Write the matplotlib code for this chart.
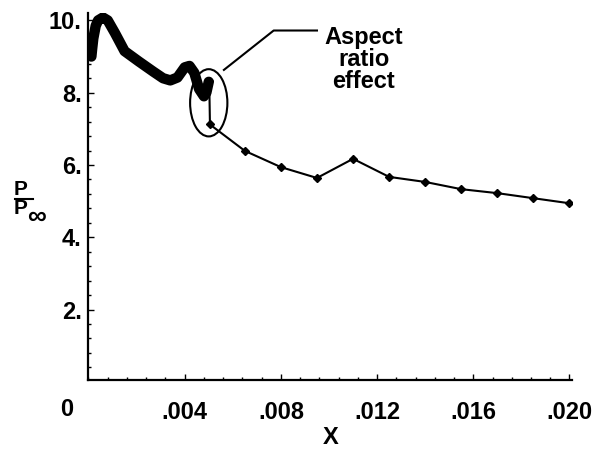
import numpy as np
import matplotlib.pyplot as plt
from matplotlib.patches import Ellipse
from matplotlib.ticker import MultipleLocator
from matplotlib.lines import Line2D

plt.rcParams['font.family'] = ['Liberation Sans', 'DejaVu Sans']

# dense (thick) part of the curve near the leading edge
x_fine = [0.00012, 0.00015, 0.0002, 0.0003, 0.0004, 0.0006, 0.0008, 0.0011,
          0.0015, 0.0021, 0.0027, 0.0031, 0.0034, 0.0037, 0.0040, 0.0042,
          0.0044, 0.0046, 0.0048, 0.0049, 0.0050]
y_fine = [9.0, 9.2, 9.5, 9.85, 10.0, 10.08, 10.0, 9.65, 9.15, 8.86, 8.58,
          8.4, 8.34, 8.42, 8.7, 8.74, 8.55, 8.1, 7.9, 8.0, 8.3]

# discrete points downstream
x_pts = [0.00502, 0.00505, 0.0065, 0.008, 0.0095, 0.011, 0.0125, 0.014,
         0.0155, 0.017, 0.0185, 0.020]
y_pts = [8.33, 7.12, 6.39, 5.94, 5.64, 6.17, 5.67, 5.53, 5.33, 5.22, 5.08, 4.94]

x_ticks = [0.004, 0.008, 0.012, 0.016, 0.020]
x_labels = ['.004', '.008', '.012', '.016', '.020']
y_ticks = [2, 4, 6, 8, 10]
y_labels = ['2.', '4.', '6.', '8.', '10.']

fs = 17
fig = plt.figure(figsize=(6.02, 4.54), dpi=100)
ax = fig.add_axes([0.147, 0.163, 0.803, 0.808])

ax.plot(x_fine, y_fine, color='black', lw=7.5, solid_capstyle='round',
        solid_joinstyle='round')
ax.plot(x_pts, y_pts, color='black', lw=1.5, marker='D', ms=4.5)

ax.add_patch(Ellipse((0.00500, 7.72), 0.00155, 1.86, fill=False,
                     edgecolor='black', lw=1.5))

# annotation leader line
ax.plot([0.00563, 0.00770, 0.00950], [8.63, 9.72, 9.72], color='black', lw=1.5)
ax.text(0.01145, 9.85, 'Aspect\nratio\neffect', ha='center', va='top',
        fontsize=fs, fontweight='bold', linespacing=0.95,
        transform=ax.transData)

ax.set_xlim(0, 0.0201)
ax.set_ylim(0.05, 10.2)

ax.spines['top'].set_visible(False)
ax.spines['right'].set_visible(False)
ax.spines['left'].set_linewidth(1.6)
ax.spines['bottom'].set_linewidth(1.6)

ax.set_xticks(x_ticks)
ax.set_xticklabels(x_labels, fontsize=fs, fontweight='bold')
ax.set_yticks(y_ticks)
ax.set_yticklabels(y_labels, fontsize=fs, fontweight='bold')
ax.xaxis.set_minor_locator(MultipleLocator(0.0008))
ax.yaxis.set_minor_locator(MultipleLocator(0.4))
ax.tick_params(which='major', direction='in', length=4, width=1, pad=5)
ax.tick_params(axis='x', which='major', pad=15)
ax.tick_params(which='minor', direction='in', length=2, width=1)

# origin label
fig.text(67 / 602, 1 - 409 / 454, '0', ha='center', va='center',
         fontsize=fs, fontweight='bold')

# x label
fig.text(331 / 602, 1 - 437 / 454, 'X', ha='center', va='center',
         fontsize=fs, fontweight='bold')

# y label P / P_inf
fig.text(21 / 602, 1 - 190 / 454, 'P', ha='center', va='center',
         fontsize=fs - 2, fontweight='bold')
fig.add_artist(Line2D([15 / 602, 33 / 602], [1 - 199 / 454, 1 - 199 / 454],
                      color='black', lw=1.5, transform=fig.transFigure))
fig.text(21 / 602, 1 - 209 / 454, 'P', ha='center', va='center',
         fontsize=fs - 2, fontweight='bold')
fig.text(36 / 602, 1 - 217 / 454, '\u221e', ha='center', va='center',
         fontsize=fs + 2, fontweight='bold')

fig.savefig('out.png', dpi=100)
